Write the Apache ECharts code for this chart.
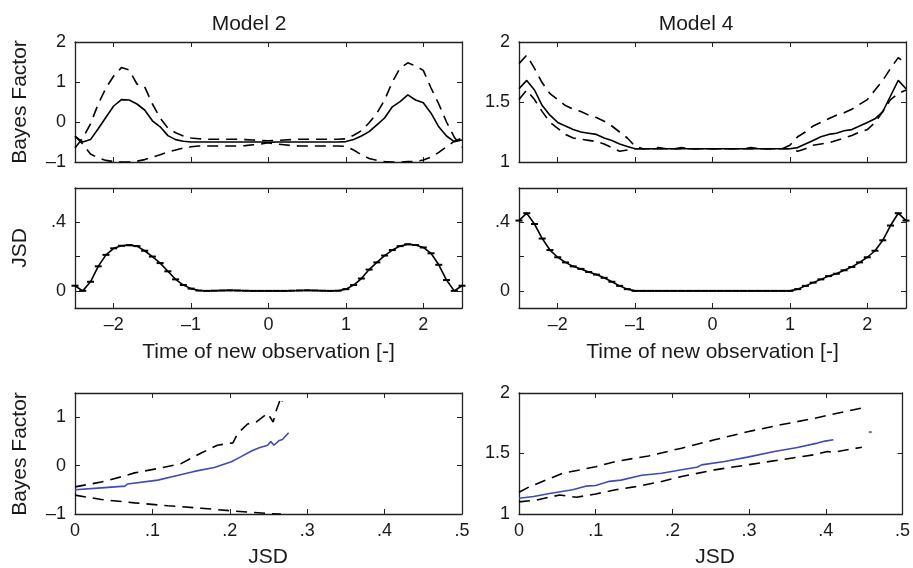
<!DOCTYPE html>
<html>
<head>
<meta charset="utf-8">
<script src="https://cdn.jsdelivr.net/npm/echarts@6/dist/echarts.min.js"></script>
<style>
html,body{margin:0;padding:0;background:#fff;}
#chart{width:913px;height:568px;}
</style>
</head>
<body>
<div id="chart"></div>
<script>
// ---------------- DATA ----------------
const timeValues = [-2.5,-2.4,-2.3,-2.2,-2.1,-2.0,-1.9,-1.8,-1.7,-1.6,-1.5,-1.4,-1.3,-1.2,-1.1,-1.0,-0.9,-0.8,-0.7,-0.6,-0.5,-0.4,-0.3,-0.2,-0.1,0.0,0.1,0.2,0.3,0.4,0.5,0.6,0.7,0.8,0.9,1.0,1.1,1.2,1.3,1.4,1.5,1.6,1.7,1.8,1.9,2.0,2.1,2.2,2.3,2.4,2.5];

// Model 2 - Bayes factor (median, upper, lower)
const m2Bf = [-0.36,-0.50,-0.44,-0.17,0.12,0.40,0.56,0.55,0.45,0.30,0.03,-0.12,-0.34,-0.44,-0.48,-0.50,-0.50,-0.50,-0.50,-0.50,-0.50,-0.50,-0.50,-0.50,-0.50,-0.51,-0.50,-0.50,-0.50,-0.50,-0.50,-0.50,-0.50,-0.50,-0.50,-0.49,-0.44,-0.35,-0.24,-0.07,0.10,0.38,0.51,0.68,0.55,0.48,0.22,-0.12,-0.35,-0.49,-0.45];
const m2BfUp = [-0.65,-0.40,-0.05,0.45,0.85,1.15,1.36,1.30,0.95,0.88,0.45,0.10,-0.15,-0.27,-0.35,-0.40,-0.42,-0.43,-0.43,-0.43,-0.43,-0.43,-0.44,-0.45,-0.46,-0.47,-0.46,-0.45,-0.44,-0.43,-0.43,-0.43,-0.43,-0.43,-0.43,-0.42,-0.33,-0.22,-0.02,0.22,0.55,1.00,1.35,1.48,1.40,1.29,0.85,0.45,0.00,-0.38,-0.63];
const m2BfLo = [-0.35,-0.55,-0.80,-0.90,-0.96,-0.99,-1.00,-1.00,-0.98,-0.94,-0.88,-0.82,-0.75,-0.70,-0.65,-0.62,-0.60,-0.60,-0.60,-0.60,-0.60,-0.60,-0.59,-0.57,-0.55,-0.52,-0.55,-0.57,-0.59,-0.60,-0.60,-0.60,-0.60,-0.60,-0.60,-0.61,-0.70,-0.82,-0.91,-0.96,-0.99,-1.00,-1.00,-0.99,-0.99,-0.95,-0.88,-0.76,-0.62,-0.48,-0.40];

// Model 4 - Bayes factor (median, upper, lower)
const m4Bf = [1.61,1.68,1.60,1.47,1.39,1.33,1.30,1.27,1.25,1.24,1.23,1.20,1.18,1.15,1.13,1.11,1.11,1.11,1.11,1.11,1.11,1.11,1.11,1.11,1.11,1.11,1.11,1.11,1.11,1.11,1.11,1.11,1.11,1.11,1.11,1.11,1.12,1.15,1.18,1.21,1.23,1.24,1.26,1.27,1.30,1.33,1.36,1.42,1.55,1.68,1.61];
const m4BfUp = [1.82,1.89,1.78,1.66,1.57,1.52,1.47,1.44,1.42,1.39,1.37,1.34,1.30,1.25,1.20,1.13,1.11,1.11,1.12,1.11,1.11,1.12,1.11,1.11,1.11,1.11,1.11,1.11,1.11,1.11,1.12,1.11,1.11,1.11,1.11,1.14,1.21,1.25,1.30,1.33,1.36,1.39,1.41,1.44,1.48,1.52,1.60,1.68,1.78,1.87,1.82];
const m4BfLo = [1.52,1.60,1.52,1.42,1.33,1.28,1.23,1.20,1.19,1.18,1.17,1.15,1.12,1.09,1.10,1.11,1.11,1.11,1.11,1.11,1.11,1.11,1.11,1.11,1.11,1.11,1.11,1.11,1.11,1.11,1.11,1.11,1.11,1.11,1.11,1.11,1.09,1.11,1.14,1.15,1.16,1.18,1.20,1.22,1.25,1.27,1.33,1.42,1.52,1.57,1.60];

// JSD vs time
const m2Jsd = [0.030,0.000,0.053,0.143,0.210,0.248,0.263,0.267,0.261,0.234,0.200,0.162,0.114,0.067,0.034,0.013,0.002,0.000,0.001,0.002,0.003,0.002,0.001,0.000,0.000,0.000,0.000,0.000,0.001,0.002,0.003,0.002,0.001,0.000,0.001,0.010,0.034,0.072,0.124,0.166,0.206,0.238,0.261,0.272,0.267,0.253,0.219,0.152,0.063,0.000,0.030];
const m4Jsd = [0.410,0.453,0.390,0.305,0.238,0.196,0.166,0.143,0.128,0.110,0.095,0.076,0.053,0.029,0.010,0.000,0.000,0.000,0.000,0.000,0.000,0.000,0.000,0.000,0.000,0.000,0.000,0.000,0.000,0.000,0.000,0.000,0.000,0.000,0.000,0.000,0.010,0.029,0.048,0.067,0.086,0.100,0.120,0.139,0.166,0.196,0.234,0.295,0.381,0.453,0.410];

// Bayes factor vs JSD, model 2: [JSD, BF]
const m2BfVsJsd = [[0,-0.50],[0.034,-0.46],[0.060,-0.43],[0.064,-0.43],[0.068,-0.38],[0.107,-0.30],[0.128,-0.22],[0.154,-0.12],[0.180,-0.04],[0.202,0.08],[0.214,0.18],[0.228,0.30],[0.238,0.37],[0.249,0.42],[0.253,0.50],[0.257,0.42],[0.264,0.52],[0.268,0.54],[0.270,0.53],[0.276,0.68]];
const m2UpVsJsd = [[0,-0.44],[0.034,-0.34],[0.060,-0.23],[0.077,-0.15],[0.107,-0.06],[0.137,0.04],[0.163,0.26],[0.184,0.42],[0.204,0.47],[0.210,0.66],[0.223,0.86],[0.234,0.90],[0.249,1.08],[0.256,0.90],[0.260,1.14],[0.266,1.40],[0.268,1.32]];
const m2LoVsJsd = [[0,-0.61],[0.034,-0.70],[0.077,-0.77],[0.120,-0.83],[0.163,-0.88],[0.206,-0.94],[0.249,-0.99],[0.266,-1.00]];

// Bayes factor vs JSD, model 4: [JSD, BF]
const m4BfVsJsd = [[0,1.130],[0.019,1.144],[0.040,1.170],[0.070,1.200],[0.087,1.230],[0.100,1.235],[0.118,1.270],[0.133,1.280],[0.160,1.320],[0.186,1.337],[0.212,1.365],[0.232,1.387],[0.238,1.406],[0.268,1.434],[0.298,1.470],[0.333,1.517],[0.363,1.550],[0.389,1.586],[0.397,1.600],[0.410,1.613]];
const m4BfVsJsdExtra = [[0.458,1.677]];
const m4UpVsJsd = [[0,1.180],[0.014,1.226],[0.057,1.337],[0.100,1.390],[0.126,1.434],[0.169,1.480],[0.212,1.544],[0.255,1.613],[0.298,1.680],[0.341,1.737],[0.385,1.790],[0.406,1.820],[0.447,1.876]];
const m4LoVsJsd = [[0,1.100],[0.023,1.116],[0.053,1.157],[0.075,1.138],[0.100,1.166],[0.126,1.200],[0.152,1.226],[0.186,1.268],[0.212,1.310],[0.255,1.365],[0.298,1.406],[0.341,1.448],[0.385,1.490],[0.402,1.517],[0.410,1.510],[0.447,1.552]];

// Tick values
const timeTicks = [-2,-1,0,1,2];
const jsdTicks = [0,0.1,0.2,0.3,0.4,0.5];
const bfTicksM2 = [-1,0,1,2];
const bfTicksM4 = [1,1.5,2];
const jsdYTicks = [0,0.2,0.4];
const jsdYLabels = [0,0.4];
const bfTicksM2b = [-1,0,1];

// ---------------- CHART ----------------
const FONT = '"Liberation Sans", Arial, Helvetica, sans-serif';
const TXT = '#1a1a1a';
const AX = '#222';
const BLUE = '#3f4ab3';

function fmt(v){
  let s = String(Math.round(v*1000)/1000);
  if (s.startsWith('0.')) s = s.slice(1);
  if (s.startsWith('-0.')) s = '-' + s.slice(2);
  return s.replace('-', '\u2013');
}

const grids = [
  {left:75, top:42, width:387, height:120},
  {left:519, top:42, width:387, height:120},
  {left:75, top:188, width:387, height:120},
  {left:519, top:188, width:387, height:120},
  {left:75, top:393, width:387, height:121},
  {left:519, top:393, width:387, height:121}
];

const panelAxes = [
  {x:[-2.5,2.5], xt:timeTicks, xl:false, y:[-1,2], yt:bfTicksM2, yl:bfTicksM2},
  {x:[-2.5,2.5], xt:timeTicks, xl:false, y:[1,2], yt:bfTicksM4, yl:bfTicksM4},
  {x:[-2.5,2.5], xt:timeTicks, xl:true, y:[-0.1,0.6], yt:jsdYTicks, yl:jsdYLabels},
  {x:[-2.5,2.5], xt:timeTicks, xl:true, y:[-0.1,0.6], yt:jsdYTicks, yl:jsdYLabels},
  {x:[0,0.5], xt:jsdTicks, xl:true, y:[-1,1.5], yt:bfTicksM2b, yl:bfTicksM2b},
  {x:[0,0.5], xt:jsdTicks, xl:true, y:[1,2], yt:bfTicksM4, yl:bfTicksM4}
];

const xAxes = [], yAxes = [];
panelAxes.forEach((p, i) => {
  ['bottom','top'].forEach((pos, k) => {
    xAxes.push({
      type:'value', gridIndex:i, position:pos, min:p.x[0], max:p.x[1],
      axisLine:{show:true, onZero:false, lineStyle:{color:AX, width:1.3}},
      axisTick:{show:true, inside:true, length:5, customValues:p.xt, lineStyle:{color:AX, width:1}},
      axisLabel:{show:(k===0 && p.xl), customValues:p.xt, formatter:fmt, margin:8,
        fontFamily:FONT, fontSize:18, color:TXT},
      splitLine:{show:false}
    });
  });
  ['left','right'].forEach((pos, k) => {
    yAxes.push({
      type:'value', gridIndex:i, position:pos, min:p.y[0], max:p.y[1],
      axisLine:{show:true, onZero:false, lineStyle:{color:AX, width:1.3}},
      axisTick:{show:true, inside:true, length:5, customValues:p.yt, lineStyle:{color:AX, width:1}},
      axisLabel:{show:(k===0), customValues:p.yl, formatter:fmt, margin:9,
        fontFamily:FONT, fontSize:18, color:TXT},
      splitLine:{show:false}
    });
  });
});

function pairs(xs, ys){ return xs.map((x, j) => [x, ys[j]]); }

function lineSeries(panel, data, opts){
  return Object.assign({
    type:'line', xAxisIndex:panel*2, yAxisIndex:panel*2, data:data,
    showSymbol:false, symbol:'none', silent:true, animation:false,
    lineStyle:{color:'#000', width:1.6}
  }, opts || {});
}
const dashed = {lineStyle:{color:'#000', width:1.6, type:[11,7]}};
const jsdStyle = {showSymbol:true, symbol:'rect', symbolSize:[7,2], itemStyle:{color:'#000'}};
const blueStyle = {lineStyle:{color:BLUE, width:1.6}};

const series = [
  lineSeries(0, pairs(timeValues, m2BfUp), dashed),
  lineSeries(0, pairs(timeValues, m2BfLo), dashed),
  lineSeries(0, pairs(timeValues, m2Bf)),
  lineSeries(1, pairs(timeValues, m4BfUp), dashed),
  lineSeries(1, pairs(timeValues, m4BfLo), dashed),
  lineSeries(1, pairs(timeValues, m4Bf)),
  lineSeries(2, pairs(timeValues, m2Jsd), jsdStyle),
  lineSeries(3, pairs(timeValues, m4Jsd), jsdStyle),
  lineSeries(4, m2UpVsJsd, dashed),
  lineSeries(4, m2LoVsJsd, dashed),
  lineSeries(4, m2BfVsJsd, blueStyle),
  lineSeries(5, m4UpVsJsd, dashed),
  lineSeries(5, m4LoVsJsd, dashed),
  lineSeries(5, m4BfVsJsd, blueStyle),
  {type:'scatter', xAxisIndex:10, yAxisIndex:10, data:m4BfVsJsdExtra, symbol:'rect', symbolSize:[3,2],
   itemStyle:{color:BLUE}, silent:true, animation:false}
];

function txt(text, x, y, rot, size){
  return {type:'text', x:x, y:y, rotation:rot||0, silent:true,
    style:{text:text, fontFamily:FONT, fontSize:size||21, fill:TXT, align:'center', verticalAlign:'middle'}};
}

const graphic = [
  txt('Model 2', 249, 24),
  txt('Model 4', 696, 24),
  txt('Bayes Factor', 20.5, 102, Math.PI/2),
  txt('JSD', 20.5, 248, Math.PI/2),
  txt('Bayes Factor', 20.5, 454, Math.PI/2),
  txt('Time of new observation [-]', 268.5, 352),
  txt('Time of new observation [-]', 712.5, 352),
  txt('JSD', 268, 557),
  txt('JSD', 715, 557)
];

const chart = echarts.init(document.getElementById('chart'), null, {renderer:'canvas'});
chart.setOption({
  animation:false,
  backgroundColor:'#fff',
  grid:grids,
  xAxis:xAxes,
  yAxis:yAxes,
  series:series,
  graphic:graphic
});
</script>
</body>
</html>
